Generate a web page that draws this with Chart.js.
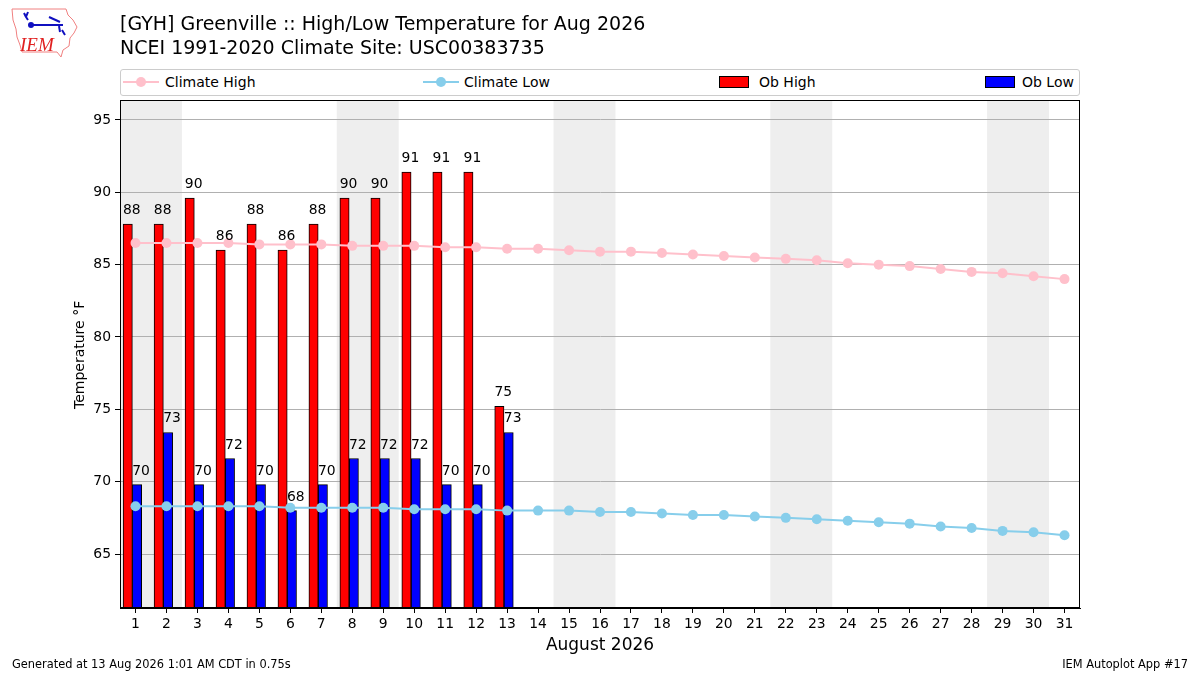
<!DOCTYPE html>
<html>
<head>
<meta charset="utf-8">
<script src="https://cdn.jsdelivr.net/npm/chart.js@4/dist/chart.umd.min.js"></script>
<style>
body{margin:0;width:1200px;height:675px;position:relative;background:#fff;overflow:hidden;font-family:"DejaVu Sans",sans-serif;color:#000}
canvas{position:absolute;left:0;top:0}
.t{position:absolute;white-space:nowrap;line-height:1;font-weight:normal}
#legend{position:absolute;left:120px;top:69px;width:958px;height:25px;border:1px solid #cccccc;border-radius:3px;background:#fff}
.li{position:absolute;top:5px;font-size:14px;white-space:nowrap;line-height:1}
#ylab{position:absolute;left:71px;top:409px;font-size:14px;line-height:16px;white-space:nowrap;transform:rotate(-90deg);transform-origin:0 0}
</style>
</head>
<body>
<canvas id="c" width="1200" height="675"></canvas>

<svg class="t" style="left:0;top:0" width="90" height="62">
  <path d="M12,9 L66,9 L68,15 L73,20 L77,27 L74,33 L70,38 L69,46 L63,50 L61,57 L57,52 L22,52 L20,45 L17,37 L16,29 L13,20 Z" fill="none" stroke="#f08080" stroke-width="1"/>
  <path d="M24,13 L26,17 M28,12 L26,17 L28,20 M30,25 L63,25 M49,17 L60,22 M59,26 L60,32 M62,30 L65,35" stroke="#1010c0" stroke-width="2" fill="none"/>
  <circle cx="31" cy="25" r="3" fill="#1010c0"/>
  <text x="20" y="51" font-family="Liberation Serif,serif" font-style="italic" font-size="19" fill="#e02020">IEM</text>
</svg>

<div class="t" style="left:120px;top:14px;font-size:19px">[GYH] Greenville :: High/Low Temperature for Aug 2026</div>
<div class="t" style="left:120px;top:38px;font-size:19px">NCEI 1991-2020 Climate Site: USC00383735</div>

<div id="legend">
  <svg class="t" style="left:2px;top:4px" width="36" height="16"><line x1="0" y1="8" x2="36" y2="8" stroke="#ffc0cb" stroke-width="2"/><circle cx="18" cy="8" r="5" fill="#ffc0cb"/></svg>
  <div class="li" style="left:44px">Climate High</div>
  <svg class="t" style="left:302px;top:4px" width="36" height="16"><line x1="0" y1="8" x2="36" y2="8" stroke="#87ceeb" stroke-width="2"/><circle cx="18" cy="8" r="5" fill="#87ceeb"/></svg>
  <div class="li" style="left:343px">Climate Low</div>
  <div class="t" style="left:598px;top:6px;width:28px;height:10px;background:#ff0000;border:1px solid #000"></div>
  <div class="li" style="left:638px">Ob High</div>
  <div class="t" style="left:864px;top:6px;width:28px;height:10px;background:#0000ff;border:1px solid #000"></div>
  <div class="li" style="left:901px">Ob Low</div>
</div>

<div id="ylab">Temperature °F</div>
<div class="t" style="left:600px;top:636px;font-size:17px;transform:translateX(-50%)">August 2026</div>
<div class="t" style="left:12px;top:659px;font-size:11.4px">Generated at 13 Aug 2026 1:01 AM CDT in 0.75s</div>
<div class="t" style="right:12px;top:659px;font-size:11.4px">IEM Autoplot App #17</div>

<script>
const DAYS = [1,2,3,4,5,6,7,8,9,10,11,12,13,14,15,16,17,18,19,20,21,22,23,24,25,26,27,28,29,30,31];
const CLIM_HIGH = [86.5,86.5,86.5,86.5,86.4,86.4,86.4,86.3,86.3,86.3,86.2,86.2,86.1,86.1,86.0,85.9,
                   85.9,85.8,85.7,85.6,85.5,85.4,85.3,85.1,85.0,84.9,84.7,84.5,84.4,84.2,84.0];
const CLIM_LOW = [68.3,68.3,68.3,68.3,68.3,68.2,68.2,68.2,68.2,68.1,68.1,68.1,68.0,68.0,68.0,67.9,
                  67.9,67.8,67.7,67.7,67.6,67.5,67.4,67.3,67.2,67.1,66.9,66.8,66.6,66.5,66.3];

const OB_DAYS = [1,2,3,4,5,6,7,8,9,10,11,12,13];
const OB_HIGH = [87.8,87.8,89.6,86.0,87.8,86.0,87.8,89.6,89.6,91.4,91.4,91.4,75.2];
const OB_LOW = [69.8,73.4,69.8,71.6,69.8,68.0,69.8,71.6,71.6,71.6,69.8,69.8,73.4];

const Y_TICKS = [65,70,75,80,85,90,95];
const WEEKEND_START = [1,8,15,22,29];

const FONT = {family:"DejaVu Sans", size:13.9};

// weekend bands + white background
const shadePlugin = {
  id: "shade",
  beforeDraw(chart){
    const {ctx, chartArea:a, scales:{x}} = chart;
    ctx.save();
    ctx.fillStyle = "#fff";
    ctx.fillRect(0, 0, chart.width, chart.height);
    ctx.fillStyle = "#eeeeee";
    WEEKEND_START.forEach(d=>{
      const x1 = Math.max(a.left, x.getPixelForValue(d-0.5));
      const x2 = Math.min(a.right, x.getPixelForValue(d+1.5));
      ctx.fillRect(x1, a.top, x2-x1, a.bottom-a.top);
    });
    ctx.restore();
  },
  afterDraw(chart){
    const {ctx, chartArea:a} = chart;
    ctx.save();
    ctx.strokeStyle = "#000";
    ctx.lineWidth = 1;
    ctx.strokeRect(Math.round(a.left)+0.5, Math.round(a.top)+0.5, Math.round(a.right-a.left)-1, Math.round(a.bottom-a.top)-1);
    ctx.restore();
  }
};

// value labels above bars
const labelPlugin = {
  id: "barLabels",
  afterDatasetsDraw(chart){
    const ctx = chart.ctx;
    ctx.save();
    ctx.font = "13.9px 'DejaVu Sans'";
    ctx.fillStyle = "#000";
    ctx.textAlign = "center";
    ctx.textBaseline = "alphabetic";
    chart.data.datasets.forEach((ds, di)=>{
      if (ds.type !== "bar") return;
      const meta = chart.getDatasetMeta(di);
      meta.data.forEach((el, i)=>{
        ctx.fillText(String(Math.round(ds.data[i].y)), el.x+4, el.y-10);
      });
    });
    ctx.restore();
  }
};

const barStyle = {
  type: "bar",
  grouped: false,
  barPercentage: 1,
  categoryPercentage: 1,
  borderColor: "#000",
  borderWidth: 1,
  borderSkipped: false,
  order: 2
};

const lineStyle = {
  type: "line",
  borderWidth: 2,
  pointRadius: 5,
  pointHoverRadius: 5,
  pointBorderWidth: 0,
  tension: 0,
  order: 1
};

new Chart(document.getElementById("c"), {
  type: "bar",
  data: {
    datasets: [
      {...barStyle, label:"Ob High", backgroundColor:"#ff0000",
        data: OB_DAYS.map((d,i)=>({x:d-0.25, y:OB_HIGH[i]}))},
      {...barStyle, label:"Ob Low", backgroundColor:"#0000ff",
        data: OB_DAYS.map((d,i)=>({x:d+0.05, y:OB_LOW[i]}))},
      {...lineStyle, label:"Climate High", borderColor:"#ffc0cb", backgroundColor:"#ffc0cb", pointBackgroundColor:"#ffc0cb",
        data: DAYS.map((d,i)=>({x:d, y:CLIM_HIGH[i]}))},
      {...lineStyle, label:"Climate Low", borderColor:"#87ceeb", backgroundColor:"#87ceeb", pointBackgroundColor:"#87ceeb",
        data: DAYS.map((d,i)=>({x:d, y:CLIM_LOW[i]}))}
    ]
  },
  options: {
    responsive: false,
    animation: false,
    devicePixelRatio: 1,
    layout: {padding: {left:0, right:120, top:100, bottom:0}},
    plugins: {legend:{display:false}, tooltip:{enabled:false}, title:{display:false}},
    scales: {
      x: {
        type: "linear",
        min: 0.5,
        max: 31.5,
        offset: false,
        afterBuildTicks: s=>{ s.ticks = DAYS.map(v=>({value:v})); },
        afterFit: s=>{ s.height = 67; },
        ticks: {font:FONT, color:"#000", padding:3, maxRotation:0, autoSkip:false, callback:v=>String(v)},
        grid: {offset:false, drawOnChartArea:false, drawTicks:true, tickLength:5, tickColor:"#000"},
        border: {color:"#000", width:1}
      },
      y: {
        type: "linear",
        min: 61.27,
        max: 96.38,
        afterBuildTicks: s=>{ s.ticks = Y_TICKS.map(v=>({value:v})); },
        afterFit: s=>{ s.width = 120; },
        ticks: {font:FONT, color:"#000", padding:4, callback:v=>String(v)},
        grid: {color:"#b0b0b0", lineWidth:1, drawTicks:true, tickLength:5, tickColor:"#000"},
        border: {color:"#000", width:1}
      }
    }
  },
  plugins: [shadePlugin, labelPlugin]
});
</script>
</body>
</html>
